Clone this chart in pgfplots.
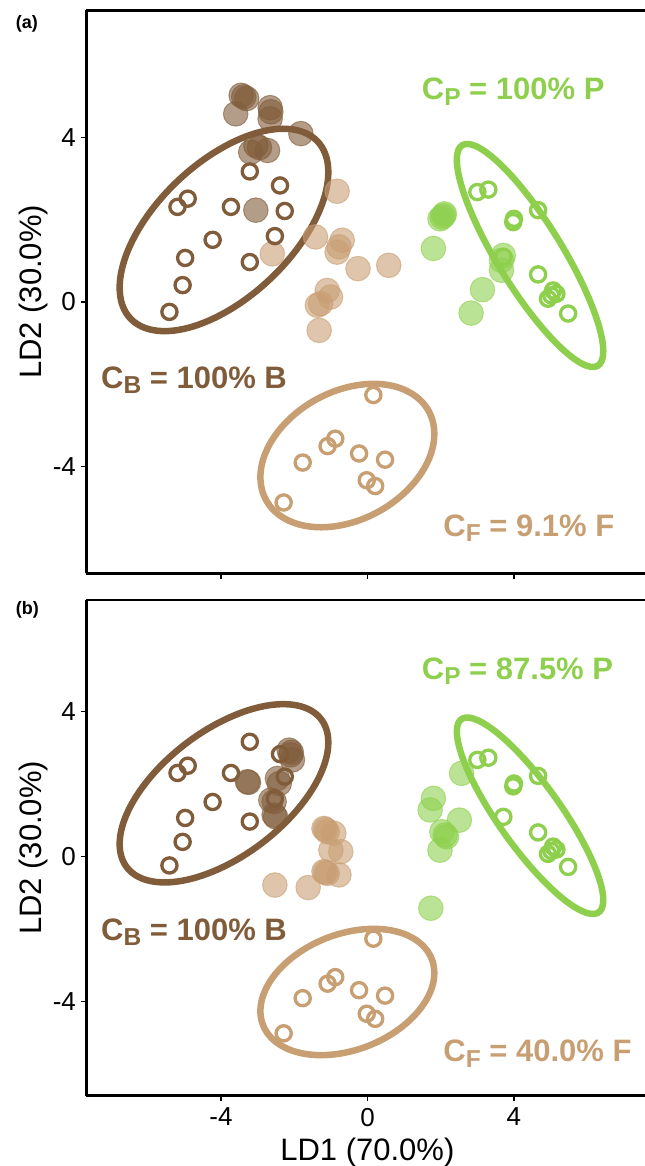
\documentclass[border=0pt]{standalone}
\usepackage{fontspec}
\setmainfont{Liberation Sans}
\usepackage{pgfplots}
\pgfplotsset{compat=1.18}
\definecolor{brownD}{RGB}{128,92,58}
\definecolor{tanF}{RGB}{200,158,115}
\definecolor{greenP}{RGB}{142,208,78}
\newcommand\sub[1]{\raisebox{-5.5bp}{\fontsize{24.5bp}{24.5bp}\selectfont #1}}
\newcommand\drawell[7]{\pgfplotsextra{\begin{pgfscope}\pgfsetlinewidth{6.5bp}\pgfsetstrokecolor{#1}%
 \pgfpathellipse{\pgfplotspointaxisxy{#2}{#3}}{\pgfplotspointaxisdirectionxy{#4}{#5}}{\pgfplotspointaxisdirectionxy{#6}{#7}}%
 \pgfusepath{stroke}\end{pgfscope}}}
\pgfplotsset{
 filledpt/.style={only marks, mark=*, mark size=12.3bp, mark options={fill=#1, fill opacity=0.6, draw=#1, draw opacity=0.6, line width=1bp}},
 openpt/.style={only marks, mark=o, mark size=7.6bp, mark options={draw=#1, line width=3.3bp}},
 lda/.style={
  scale only axis, width=558.6bp,
  xmin=-7.678, xmax=7.58, ymin=-6.59, ymax=7.08,
  axis x line*=box, axis y line*=left,
  axis line style={line width=2.6bp},
  xtick={-4,0,4}, ytick={-4,0,4}, xtick pos=left, ytick pos=left,
  tick align=outside, major tick length=5.5bp,
  every tick/.style={line width=1.4bp, black},
  /pgf/number format/assume math mode=true,
  ticklabel style={font=\fontsize{26bp}{26bp}\selectfont, inner sep=0pt},
  xticklabel style={yshift=-6.5bp},
  yticklabel style={xshift=-4.8bp},
  ylabel={LD2 (30.0\%)},
  ylabel style={at={(rel axis cs:-0.0795,0.5)}, anchor=base, font=\fontsize{31bp}{31bp}\selectfont},
  clip=false,
 },
}
\newcommand\openpoints{%
 \addplot[openpt=brownD] coordinates {(-3.215,3.17) (-2.39,2.83) (-4.91,2.51) (-5.19,2.31) (-3.73,2.31) (-2.26,2.21) (-4.23,1.51) (-2.53,1.60) (-4.98,1.07) (-3.215,0.97) (-5.05,0.41) (-5.41,-0.24)};
 \addplot[openpt=tanF] coordinates {(0.16,-2.26) (-0.88,-3.32) (-1.09,-3.50) (-0.23,-3.68) (0.48,-3.83) (-1.77,-3.90) (-0.02,-4.33) (0.21,-4.47) (-2.29,-4.87)};
 \addplot[openpt=greenP] coordinates {(3.0,2.67) (3.30,2.73) (4.0,2.02) (3.98,1.94) (4.66,2.23) (3.71,1.10) (4.66,0.67) (5.07,0.28) (5.16,0.20) (4.93,0.08) (5.02,0.16) (5.48,-0.28)};
}
\newcommand\ellipses{%
 \drawell{brownD}{-3.92}{1.75}{2.85}{1.40}{0}{2.02}%
 \drawell{tanF}{-0.55}{-3.73}{2.375}{0.526}{0}{1.66}%
 \drawell{greenP}{4.44}{1.13}{2.0}{-2.325}{0}{1.39}%
}
\begin{document}
\begin{tikzpicture}
% panel (a)
\begin{axis}[lda, at={(86.4bp,-573.3bp)}, anchor=south west, height=562.8bp, xticklabel=\empty]
 \addplot[filledpt=brownD] coordinates {(-3.45,5.02) (-3.38,4.98) (-3.30,4.94) (-3.60,4.57) (-2.66,4.72) (-2.64,4.62) (-2.66,4.45) (-1.82,4.09) (-3.05,3.80) (-2.73,3.68) (-3.19,3.64) (-2.95,3.75) (-3.05,2.23)};
 \addplot[filledpt=tanF] coordinates {(-0.83,2.69) (-1.42,1.58) (-0.69,1.50) (-0.78,1.34) (-0.83,1.21) (-2.60,1.17) (-0.26,0.81) (0.58,0.89) (-1.10,0.28) (-1.01,0.12) (-1.28,-0.04) (-1.37,-0.08) (-1.32,-0.69)};
 \addplot[filledpt=greenP] coordinates {(2.08,2.10) (2.04,2.06) (1.98,2.02) (2.10,2.14) (1.80,1.30) (3.71,1.13) (3.66,1.01) (3.66,0.77) (3.14,0.30) (2.83,-0.27)};
 \ellipses
 \openpoints
 \node[anchor=base west, inner sep=0pt, text=greenP, font=\bfseries\fontsize{31bp}{31bp}\selectfont] at (axis cs:1.48,4.91) {C\sub{P} = 100\% P};
 \node[anchor=base west, inner sep=0pt, text=brownD, font=\bfseries\fontsize{31bp}{31bp}\selectfont] at (axis cs:-7.28,-2.10) {C\sub{B} = 100\% B};
 \node[anchor=base west, inner sep=0pt, text=tanF, font=\bfseries\fontsize{31bp}{31bp}\selectfont] at (axis cs:2.07,-5.69) {C\sub{F} = 9.1\% F};
\end{axis}
% panel (b)
\begin{axis}[lda, at={(86.4bp,-1095.7bp)}, anchor=south west, height=495.7bp,
  xlabel={LD1 (70.0\%)},
  xlabel style={at={(rel axis cs:0.503,-0.1297)}, anchor=base, font=\fontsize{31bp}{31bp}\selectfont}]
 \addplot[filledpt=brownD] coordinates {(-2.14,2.94) (-2.10,2.81) (-2.05,2.67) (-2.08,2.88) (-3.28,2.07) (-3.25,2.05) (-2.46,2.16) (-2.41,2.02) (-2.64,1.56) (-2.55,1.52) (-2.51,1.10) (-2.55,1.15)};
 \addplot[filledpt=tanF] coordinates {(-1.19,0.78) (-1.10,0.69) (-0.92,0.65) (-1.15,0.75) (-1.00,0.18) (-0.73,0.14) (-1.19,-0.41) (-1.10,-0.46) (-0.78,-0.50) (-1.15,-0.43) (-2.53,-0.78) (-1.62,-0.85)};
 \addplot[filledpt=greenP] coordinates {(2.57,2.30) (1.80,1.61) (1.71,1.29) (2.51,1.01) (2.03,0.69) (2.12,0.60) (2.16,0.55) (1.98,0.18) (1.73,-1.42)};
 \ellipses
 \openpoints
 \node[anchor=base west, inner sep=0pt, text=greenP, font=\bfseries\fontsize{31bp}{31bp}\selectfont] at (axis cs:1.48,4.89) {C\sub{P} = 87.5\% P};
 \node[anchor=base west, inner sep=0pt, text=brownD, font=\bfseries\fontsize{31bp}{31bp}\selectfont] at (axis cs:-7.28,-2.30) {C\sub{B} = 100\% B};
 \node[anchor=base west, inner sep=0pt, text=tanF, font=\bfseries\fontsize{31bp}{31bp}\selectfont] at (axis cs:2.07,-5.66) {C\sub{F} = 40.0\% F};
\end{axis}
\node[anchor=base west, inner sep=0pt, font=\bfseries\fontsize{18bp}{18bp}\selectfont] at (15.6bp,-28bp) {(a)};
\node[anchor=base west, inner sep=0pt, font=\bfseries\fontsize{18bp}{18bp}\selectfont] at (15.6bp,-614.6bp) {(b)};
\pgfresetboundingbox
\path[use as bounding box] (0,0) rectangle (645bp,-1166bp);
\end{tikzpicture}
\end{document}
